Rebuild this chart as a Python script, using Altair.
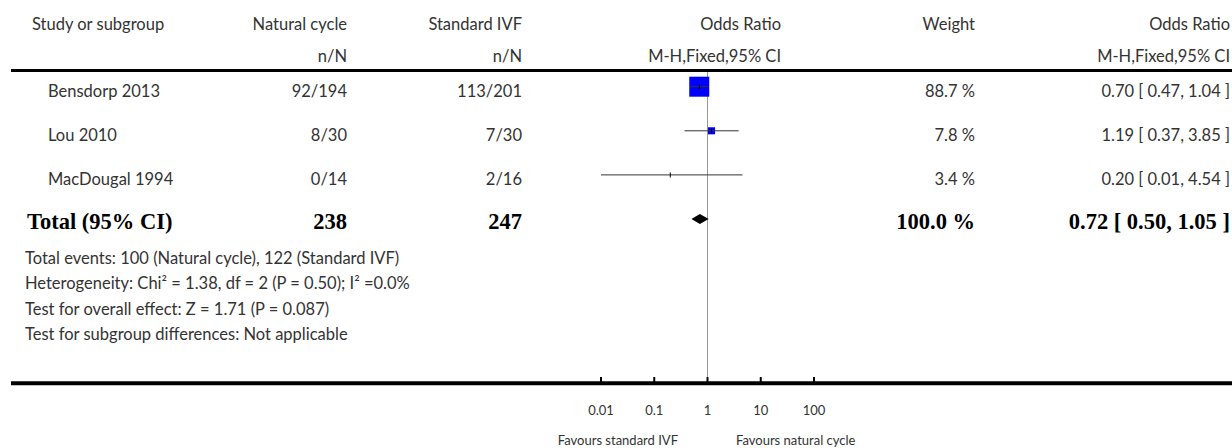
import altair as alt
import pandas as pd

# ---------------- data ----------------
studies = ["Bensdorp 2013", "Lou 2010", "MacDougal 1994"]
natural_nN = ["92/194", "8/30", "0/14"]
standard_nN = ["113/201", "7/30", "2/16"]
odds_ratio = [0.70, 1.19, 0.20]
ci_low = [0.47, 0.37, 0.01]
ci_high = [1.04, 3.85, 4.54]
weights = [88.7, 7.8, 3.4]
rows = [1, 2, 3]

total_label = "Total (95% CI)"
total_natural = "238"
total_standard = "247"
total_or = 0.72
total_low = 0.50
total_high = 1.05
total_weight = 100.0
total_row = 4

axis_ticks = [0.01, 0.1, 1, 10, 100]
axis_tick_labels = ["0.01", "0.1", "1", "10", "100"]

header_top = ["Study or subgroup", "Natural cycle", "Standard IVF", "Odds Ratio", "Weight", "Odds Ratio"]
header_sub = ["n/N", "n/N", "M-H,Fixed,95% CI", "M-H,Fixed,95% CI"]

footnotes = [
    "Total events: 100 (Natural cycle), 122 (Standard IVF)",
    "Heterogeneity: Chi\u00b2 = 1.38, df = 2 (P = 0.50); I\u00b2 =0.0%",
    "Test for overall effect: Z = 1.71 (P = 0.087)",
    "Test for subgroup differences: Not applicable",
]
favours_left = "Favours standard IVF"
favours_right = "Favours natural cycle"

# ---------------- layout / style ----------------
W, H = 1232, 448
FONT = "Lato"
SERIF = "Liberation Serif"
TXT = "#333333"
FS = 16.5
BFS = 22.5

X_STUDY = 48
X_TOTAL = 27
X_HEAD = 32
X_NAT = 347
X_STD = 522
X_ORH = 781
X_WT = 975
X_ORT = 1230

xs = alt.Scale(type="log", domain=[0.01, 100], range=[601, 814])
ys = alt.Scale(domain=[0, 5], range=[42.6, 263.1])
pitch = (263.1 - 42.6) / 5.0
diamond_half = 5.0 / pitch

fmt_or = lambda o, l, h: f"{o:.2f} [ {l:.2f}, {h:.2f} ]"

df = pd.DataFrame({
    "study": studies, "nat": natural_nN, "std": standard_nN,
    "or": odds_ratio, "lo": ci_low, "hi": ci_high, "weight": weights, "row": rows,
})
df["wt_text"] = [f"{w:.1f} %" for w in weights]
df["or_text"] = [fmt_or(o, l, h) for o, l, h in zip(odds_ratio, ci_low, ci_high)]

tot = pd.DataFrame({
    "row": [total_row],
    "label": [total_label], "nat": [total_natural], "std": [total_standard],
    "wt_text": [f"{total_weight:.1f} %"],
    "or_text": [fmt_or(total_or, total_low, total_high)],
})

diamond = pd.DataFrame({
    "x": [total_low, total_or, total_high],
    "top": [total_row, total_row - diamond_half, total_row],
    "bot": [total_row, total_row + diamond_half, total_row],
})

ticks = pd.DataFrame({"v": axis_ticks, "lab": axis_tick_labels})
one = pd.DataFrame({"v": [1]})

base = alt.Chart(df)

def txt(data, field, x, align, y=None, dy=0, font=FONT, size=FS, weight="normal", color=TXT):
    c = alt.Chart(data).mark_text(align=align, baseline="middle", font=font, fontSize=size,
                                  fontWeight=weight, color=color, dy=dy)
    enc = {"x": alt.value(x), "text": alt.Text(f"{field}:N")}
    enc["y"] = alt.Y("row:Q", scale=ys, axis=None) if y is None else alt.value(y)
    return c.encode(**enc)

def label(text, x, y, align, size=FS, color=TXT):
    return alt.Chart(pd.DataFrame({"t": [text]})).mark_text(
        align=align, baseline="middle", font=FONT, fontSize=size, color=color
    ).encode(x=alt.value(x), y=alt.value(y), text="t:N")

layers = []

# heavy rules
layers.append(alt.Chart(one).mark_rule(color="black", strokeWidth=3).encode(
    x=alt.value(11), x2=alt.value(W), y=alt.value(70.5)))
layers.append(alt.Chart(one).mark_rule(color="black", strokeWidth=4).encode(
    x=alt.value(11), x2=alt.value(W), y=alt.value(383.3)))

# line of no effect
layers.append(alt.Chart(one).mark_rule(color="#999999", strokeWidth=1).encode(
    x=alt.X("v:Q", scale=xs, axis=None), y=alt.value(72), y2=alt.value(382)))

# axis ticks
layers.append(alt.Chart(ticks).mark_rule(color="black", strokeWidth=2).encode(
    x=alt.X("v:Q", scale=xs, axis=None), y=alt.value(377), y2=alt.value(382)))
layers.append(alt.Chart(ticks).mark_text(align="center", baseline="middle", font=FONT,
                                         fontSize=13, color=TXT).encode(
    x=alt.X("v:Q", scale=xs, axis=None), y=alt.value(411), text="lab:N"))

# squares
layers.append(base.mark_square(color="#0000ff", opacity=1, filled=True).encode(
    x=alt.X("or:Q", scale=xs, axis=None),
    y=alt.Y("row:Q", scale=ys, axis=None),
    size=alt.Size("weight:Q", scale=alt.Scale(type="sqrt",
                                              domain=[min(weights), max(weights)],
                                              range=[0, 400]), legend=None)))
# CI lines
layers.append(base.mark_rule(color="#333333", strokeWidth=1).encode(
    x=alt.X("lo:Q", scale=xs, axis=None), x2="hi:Q",
    y=alt.Y("row:Q", scale=ys, axis=None)))
# estimate ticks
layers.append(base.mark_tick(orient="vertical", size=5, thickness=1, color="black", opacity=1).encode(
    x=alt.X("or:Q", scale=xs, axis=None), y=alt.Y("row:Q", scale=ys, axis=None)))

# diamond
layers.append(alt.Chart(diamond).mark_area(color="black", orient="vertical", opacity=1).encode(
    x=alt.X("x:Q", scale=xs, axis=None),
    y=alt.Y("top:Q", scale=ys, axis=None), y2="bot:Q"))

# headers
layers += [
    label(header_top[0], X_HEAD, 25, "left"),
    label(header_top[1], X_NAT, 25, "right"),
    label(header_top[2], X_STD, 25, "right"),
    label(header_top[3], X_ORH, 25, "right"),
    label(header_top[4], X_WT, 25, "right"),
    label(header_top[5], X_ORT, 25, "right"),
    label(header_sub[0], X_NAT, 57, "right"),
    label(header_sub[1], X_STD, 57, "right"),
    label(header_sub[2], X_ORH, 57, "right"),
    label(header_sub[3], X_ORT, 57, "right"),
]

# study rows
layers += [
    txt(df, "study", X_STUDY, "left", dy=5),
    txt(df, "nat", X_NAT, "right", dy=5),
    txt(df, "std", X_STD, "right", dy=5),
    txt(df, "wt_text", X_WT, "right", dy=5),
    txt(df, "or_text", X_ORT, "right", dy=5),
]

# total row
layers += [
    txt(tot, f, x, a, dy=3, font=SERIF, size=BFS, weight="bold", color="black")
    for f, x, a in [("label", X_TOTAL, "left"), ("nat", X_NAT, "right"), ("std", X_STD, "right"),
                    ("wt_text", X_WT, "right"), ("or_text", X_ORT, "right")]
]

# footnotes
for i, t in enumerate(footnotes):
    layers.append(label(t, 25, 259 + 25.3 * i, "left"))

# favours
layers.append(label(favours_left, 678, 441, "right", size=13))
layers.append(label(favours_right, 736, 441, "left", size=13))

chart = alt.layer(*layers).properties(
    width=W, height=H, autosize=alt.AutoSizeParams(type="none"), padding=0
).configure_view(stroke=None)

chart.save("out.html", embed_options={"renderer": "svg", "actions": False})
